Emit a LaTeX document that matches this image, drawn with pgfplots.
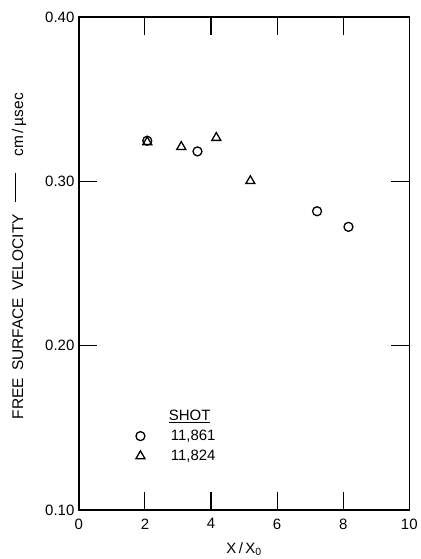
\documentclass[border=0pt]{standalone}
\usepackage{pgfplots}
\pgfplotsset{compat=1.18}
\usepackage{fontspec}
\setmainfont{Liberation Sans}

\begin{document}
\begin{tikzpicture}
\begin{axis}[
  scale only axis, width=331pt, height=494pt,
  xmin=0, xmax=10, ymin=0.10, ymax=0.40,
  xtick={0,2,4,6,8,10}, xticklabels={0,2,4,6,8,10},
  ytick={0.10,0.20,0.30,0.40}, yticklabels={0.10,0.20,0.30,0.40},
  major tick length=18pt,
  tick style={black, line width=1.1pt},
  axis line style={line width=1.3pt},
  tick label style={font=\fontsize{15}{17}\selectfont},
  xticklabel style={yshift=-5pt},
  yticklabel style={xshift=-1pt},
  xlabel={X\,/\,X$_{\mathrm{0}}$},
  ylabel={FREE\hspace{7pt}SURFACE\hspace{7pt}VELOCITY\hspace{12pt}\raisebox{7pt}{\rule{29pt}{1pt}}\hspace{17pt}cm\,/\,\textmu sec},
  every axis x label/.style={at={(axis description cs:0.5,-0.079)}, anchor=center,
                             font=\fontsize{15}{17}\selectfont},
  every axis y label/.style={at={(axis description cs:-0.181,0.515)}, anchor=center,
                             rotate=90, font=\fontsize{15.5}{18}\selectfont},
  legend style={at={(axis cs:1.60,0.1633)}, anchor=north west, draw=none, fill=none,
                font=\fontsize{15}{17}\selectfont, cells={anchor=west}, row sep=4pt},
  legend cell align=left,
  legend image post style={xshift=-3pt},
  clip=false,
]
\addlegendimage{empty legend}
\addlegendentry{\hspace{22pt}\underline{SHOT}\rule[-10.5pt]{0pt}{1pt}}
% shot 11,861
\addplot[only marks, mark=o, mark size=4.5pt, line width=1.3pt, black]
  coordinates {(2.07,0.3247) (3.59,0.3182) (7.21,0.2818) (8.16,0.2723)};
\addlegendentry{\hspace{24pt}11,861}
% shot 11,824
\addplot[only marks, mark=triangle, mark size=5.2pt, line width=1.3pt, black]
  coordinates {(2.07,0.3239) (3.10,0.3210) (4.16,0.3265) (5.19,0.3002)};
\addlegendentry{\hspace{24pt}11,824}
% inward ticks, 18pt long (0.544 x units, 0.0109 y units), drawn explicitly
\draw[line width=1.1pt]
  (axis cs:2,0.10) -- (axis cs:2,0.1109) (axis cs:4,0.10) -- (axis cs:4,0.1109)
  (axis cs:6,0.10) -- (axis cs:6,0.1109) (axis cs:8,0.10) -- (axis cs:8,0.1109);
\draw[line width=1.1pt]
  (axis cs:2,0.40) -- (axis cs:2,0.3891) (axis cs:4,0.40) -- (axis cs:4,0.3891)
  (axis cs:6,0.40) -- (axis cs:6,0.3891) (axis cs:8,0.40) -- (axis cs:8,0.3891);
\draw[line width=1.1pt]
  (axis cs:0,0.20) -- (axis cs:0.544,0.20) (axis cs:0,0.30) -- (axis cs:0.544,0.30)
  (axis cs:10,0.20) -- (axis cs:9.456,0.20) (axis cs:10,0.30) -- (axis cs:9.456,0.30);
\end{axis}
\path[use as bounding box] ([xshift=-79pt,yshift=-48pt]current axis.south west)
  rectangle ([xshift=9pt,yshift=17pt]current axis.north east);
\end{tikzpicture}
\end{document}
